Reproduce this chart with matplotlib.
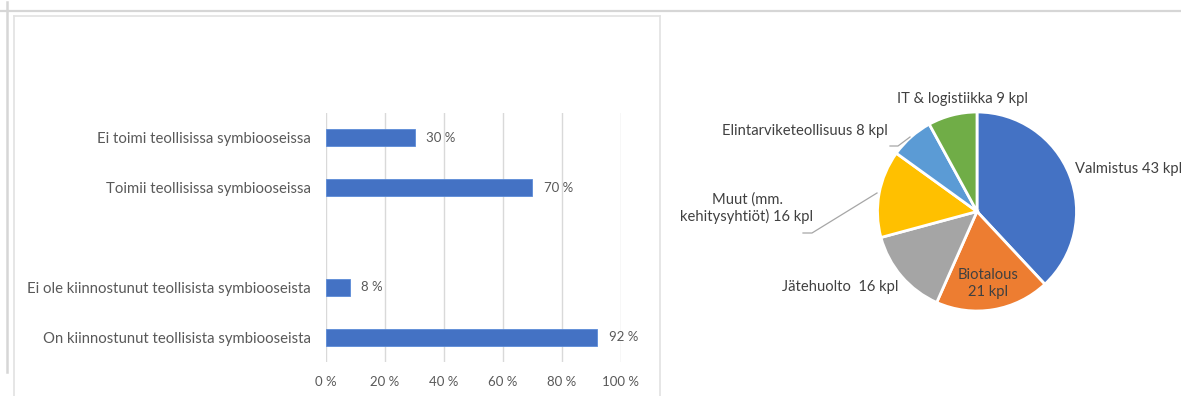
import matplotlib
matplotlib.use("Agg")
import matplotlib.pyplot as plt
from matplotlib.lines import Line2D
import numpy as np

plt.rcParams['font.family'] = ['Lato', 'DejaVu Sans']

# Bar chart data (bottom to top; empty slot as spacer)
bar_labels = ["On kiinnostunut teollisista symbiooseista",
              "Ei ole kiinnostunut teollisista symbiooseista",
              "",
              "Toimii teollisissa symbiooseissa",
              "Ei toimi teollisissa symbiooseissa"]
bar_values = [92, 8, None, 70, 30]
x_ticks = [0, 20, 40, 60, 80, 100]

# Pie data (clockwise from top)
pie_names = ["Valmistus", "Biotalous", "Jätehuolto", "Muut (mm.\nkehitysyhtiöt)",
             "Elintarviketeollisuus", "IT & logistiikka"]
pie_values = [43, 21, 16, 16, 8, 9]
pie_colors = ["#4472C4", "#ED7D31", "#A5A5A5", "#FFC000", "#5B9BD5", "#70AD47"]

W, H = 1181, 396
fig = plt.figure(figsize=(W / 100, H / 100), dpi=100)
fig.patch.set_facecolor("white")

def fx(px):
    return px / W

def fy(py):
    return 1 - py / H

# frame lines
fig.add_artist(Line2D([fx(0), fx(W)], [fy(10.5), fy(10.5)], color="#d6d6d6", lw=1.6))
fig.add_artist(Line2D([fx(7), fx(7)], [fy(2), fy(372)], color="#d6d6d6", lw=1.8))
fig.add_artist(Line2D([fx(13.5), fx(13.5)], [fy(15.5), fy(H)], color="#e2e2e2", lw=1.2))
fig.add_artist(Line2D([fx(13.5), fx(660)], [fy(15.5), fy(15.5)], color="#e2e2e2", lw=1.2))
fig.add_artist(Line2D([fx(660), fx(660)], [fy(15.5), fy(H)], color="#e2e2e2", lw=1.2))

# Bar axes
x0, x1 = 326, 621
y0, y1 = 113, 362
ax = fig.add_axes([fx(x0), fy(y1), (x1 - x0) / W, (y1 - y0) / H])
ypos = np.arange(len(bar_labels))
yb = [y for y, v in zip(ypos, bar_values) if v is not None]
vb = [v for v in bar_values if v is not None]
ax.barh(yb, vb, height=0.34, color="#4472C4", edgecolor="#5B8BD8", linewidth=0.6, zorder=3)
for y, v in zip(yb, vb):
    ax.text(v + 4, y, f"{v} %", va="center", ha="left", fontsize=9.5, color="#595959")
ax.set_xlim(0, 100)
ax.set_ylim(-0.5, len(bar_labels) - 0.5)
ax.set_xticks(x_ticks)
ax.set_xticklabels([f"{t} %" for t in x_ticks], fontsize=9.5, color="#595959")
ax.set_yticks(ypos)
ax.set_yticklabels(bar_labels, fontsize=10.7, color="#595959")
ax.tick_params(length=0, pad=11)
ax.tick_params(axis="x", pad=10)
ax.grid(axis="x", color="#d9d9d9", lw=1.0, zorder=0)
for s in ax.spines.values():
    s.set_visible(False)
ax.set_facecolor("none")

# Pie axes
cx, cy, r = 977, 211.5, 99.5
pax = fig.add_axes([fx(cx - r), fy(cy + r), 2 * r / W, 2 * r / H])
pax.pie(pie_values, colors=pie_colors, startangle=90, counterclock=False,
        wedgeprops=dict(edgecolor="white", linewidth=2))
pax.set_xlim(-1, 1)
pax.set_ylim(-1, 1)
pax.set_aspect("auto")
pax.axis("off")

tc = "#404040"
fs = 10.6
labels_txt = [f"{n} {v} kpl" for n, v in zip(pie_names, pie_values)]
fig.text(fx(1075), fy(168.5), labels_txt[0], ha="left", va="center", fontsize=fs, color=tc)
fig.text(fx(988), fy(283.5), "Biotalous\n21 kpl", ha="center", va="center", fontsize=fs, color=tc,
         linespacing=1.2)
fig.text(fx(840), fy(287), "Jätehuolto  16 kpl", ha="center", va="center", fontsize=fs, color=tc)
fig.text(fx(747), fy(208.5), "Muut (mm.\nkehitysyhtiöt) 16 kpl", ha="center", va="center",
         fontsize=fs, color=tc, linespacing=1.2)
fig.text(fx(805), fy(130.5), labels_txt[4], ha="center", va="center", fontsize=fs, color=tc)
fig.text(fx(962), fy(99.5), labels_txt[5], ha="center", va="center", fontsize=fs, color=tc)

# leader lines
fig.add_artist(Line2D([fx(803), fx(812), fx(877)], [fy(233), fy(233), fy(193)], color="#a6a6a6", lw=0.9))
fig.add_artist(Line2D([fx(890), fx(898), fx(910)], [fy(146), fy(146), fy(137)], color="#a6a6a6", lw=0.9))

fig.savefig("out.png", dpi=100, facecolor="white")
